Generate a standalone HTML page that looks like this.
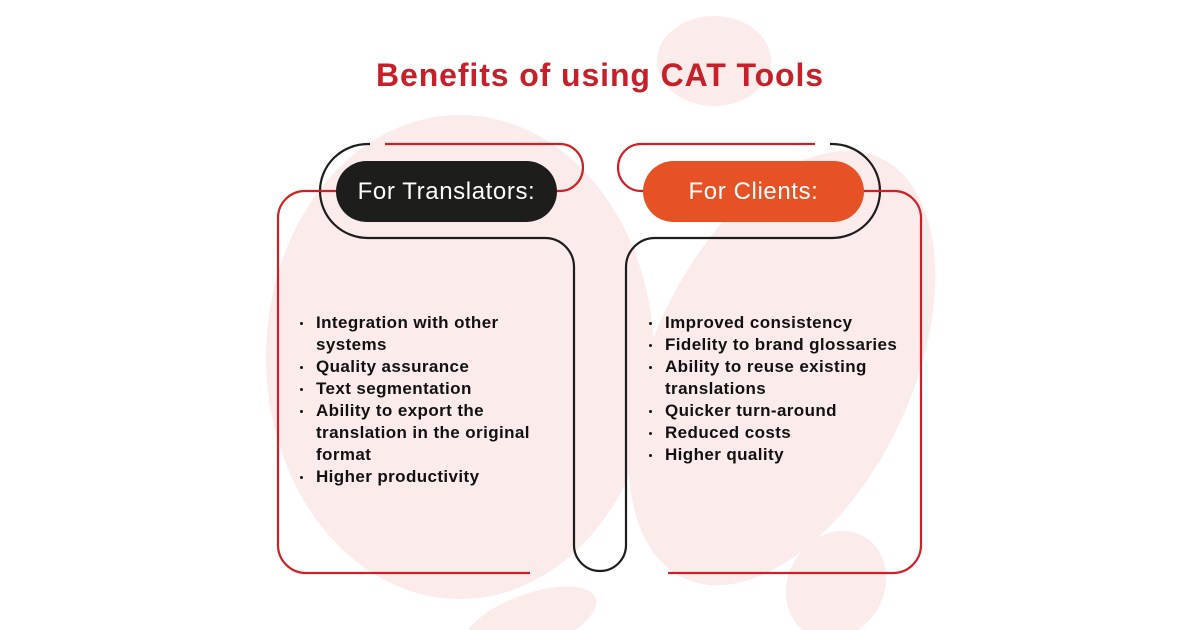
<!DOCTYPE html>
<html><head><meta charset="utf-8"><style>
html,body{margin:0;padding:0;background:#fff;}
body{width:1200px;height:630px;position:relative;overflow:hidden;font-family:"Liberation Sans",sans-serif;}
svg{position:absolute;left:0;top:0;}
.t{position:absolute;left:0;width:1200px;top:57px;text-align:center;color:#c8202a;font-weight:bold;font-size:32px;letter-spacing:0.9px;}
.pill{position:absolute;top:161px;height:61px;border-radius:31px;color:#fff;font-size:24px;line-height:61px;text-align:center;letter-spacing:0.6px;}
ul{position:absolute;margin:0;padding:0;list-style:none;font-size:17px;font-weight:bold;color:#111;line-height:22px;letter-spacing:0.4px;}
li{position:relative;padding-left:16px;}
li:before{content:"";position:absolute;left:0;top:10px;width:3px;height:3px;border-radius:50%;background:#111;}
</style></head><body>
<svg width="1200" height="630" viewBox="0 0 1200 630">
<g fill="#fbeceb">
<ellipse cx="714" cy="61" rx="57" ry="45"/>
<ellipse cx="460" cy="357" rx="194" ry="242"/>
<ellipse cx="782" cy="368" rx="130" ry="232" transform="rotate(25 782 368)"/>
<ellipse cx="836" cy="585" rx="48" ry="56" transform="rotate(30 836 585)"/>
<ellipse cx="530" cy="622" rx="70" ry="28" transform="rotate(-20 530 622)"/>
</g>
<g fill="none" stroke-width="2.2">
<path d="M370 144 H368 A48 47 0 0 0 368 238 H545 A29 29 0 0 1 574 267 V545 A26 26 0 0 0 626 545 V267 A29 29 0 0 1 655 238 H832 A48 47 0 0 0 832 144 H830" stroke="#1d1d1b"/>
<path d="M385 144 H560 A23 23.5 0 0 1 560 191 H550 M340 191 H305 A27 27 0 0 0 278 218 V545 A28 28 0 0 0 306 573 H530" stroke="#cf2027"/>
<path d="M815 144 H641 A23 23.5 0 0 0 641 191 H650 M860 191 H894 A27 27 0 0 1 921 218 V545 A28 28 0 0 1 893 573 H668" stroke="#cf2027"/>
</g>
</svg>
<div class="t">Benefits of using CAT Tools</div>
<div class="pill" style="left:336px;width:221px;background:#1d1d1b;">For Translators:</div>
<div class="pill" style="left:643px;width:221px;background:#e75126;">For Clients:</div>
<ul style="left:300px;top:312px;width:255px;">
<li>Integration with other systems</li>
<li>Quality assurance</li>
<li>Text segmentation</li>
<li>Ability to export the translation in the original format</li>
<li>Higher productivity</li>
</ul>
<ul style="left:649px;top:312px;width:270px;">
<li>Improved consistency</li>
<li>Fidelity to brand glossaries</li>
<li>Ability to reuse existing translations</li>
<li>Quicker turn-around</li>
<li>Reduced costs</li>
<li>Higher quality</li>
</ul>
</body></html>
